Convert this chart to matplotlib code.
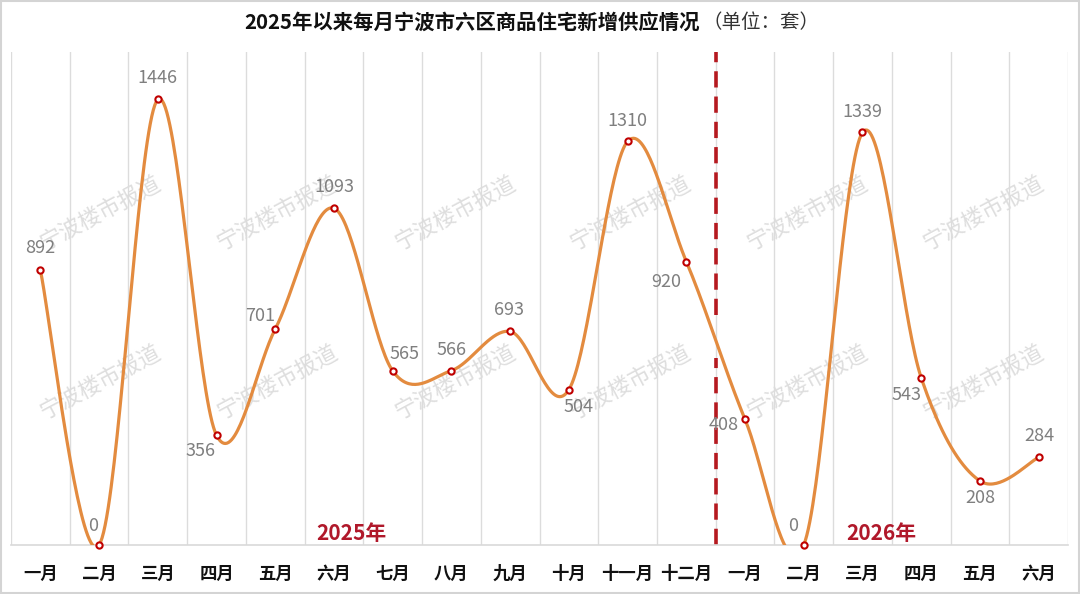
import matplotlib

matplotlib.use("Agg")
import matplotlib.pyplot as plt
import numpy as np
from matplotlib.patches import Rectangle

plt.rcParams['font.family'] = ['Noto Sans CJK SC', 'DejaVu Sans']

# data
months = ['一月', '二月', '三月', '四月', '五月', '六月', '七月', '八月', '九月',
          '十月', '十一月', '十二月', '一月', '二月', '三月', '四月', '五月', '六月']
supply = [892, 0, 1446, 356, 701, 1093, 565, 566, 693,
          504, 1310, 920, 408, 0, 1339, 543, 208, 284]
year_labels = ['2025年', '2026年']
title_main = '2025年以来每月宁波市六区商品住宅新增供应情况'
title_unit = '（单位：套）'
watermark = '宁波楼市报道'

# label offsets (pixels) so each number sits where Excel put it
label_offsets = [(0, 22), (-6, 19), (0, 21), (-16, -16), (-15, 13), (0, 21),
                 (12, 17), (0, 21), (-1, 21), (10, -17), (0, 20), (-20, -20),
                 (-21, -6), (-11, 19), (0, 20), (-15, -17), (0, -17), (1, 21)]

W, H = 1080, 594


def smooth(xs, ys, n=40):
    """Excel-like smoothed line: Catmull-Rom as cubic Bezier segments."""
    p = np.column_stack([xs, ys]).astype(float)
    p = np.vstack([p[0], p, p[-1]])
    out = []
    for i in range(1, len(p) - 2):
        p0, p1, p2, p3 = p[i - 1], p[i], p[i + 1], p[i + 2]
        c1 = p1 + (p2 - p0) / 6
        c2 = p2 - (p3 - p1) / 6
        t = np.linspace(0, 1, n)[:, None]
        seg = ((1 - t) ** 3) * p1 + 3 * ((1 - t) ** 2) * t * c1 + 3 * (1 - t) * t ** 2 * c2 + t ** 3 * p2
        out.append(seg if i == 1 else seg[1:])
    out = np.vstack(out)
    return out[:, 0], out[:, 1]


fig = plt.figure(figsize=(W / 100, H / 100), dpi=100)
fig.patch.set_facecolor('white')
fig.patches.append(Rectangle((0.001, 0.002), 0.998, 0.996, transform=fig.transFigure,
                             fill=False, edgecolor='#d4d4d4', linewidth=1.5))

ax = fig.add_axes([11 / W, 1 - 545 / H, (1068 - 11) / W, (545 - 52) / H])
x = np.arange(len(months))
ax.set_xlim(-0.5, len(months) - 0.5)
ax.set_ylim(0, 1600)

# vertical gridlines at category boundaries
ax.set_xticks(np.arange(-0.5, len(months), 1), minor=True)
ax.grid(which='minor', axis='x', color='#dcdcdc', linewidth=1.0)
ax.tick_params(which='minor', length=0)
ax.set_yticks([])
ax.set_xticks(x)
ax.set_xticklabels(months, fontsize=12.5, fontweight='bold', color='#111111')
ax.tick_params(axis='x', length=0, pad=14)
for side in ['left', 'right', 'top']:
    ax.spines[side].set_visible(False)
ax.spines['bottom'].set_color('#d9d9d9')
ax.spines['bottom'].set_linewidth(1.2)

# watermarks
for wx in [100, 277, 455, 630, 807, 983]:
    for wy in [213, 382]:
        ax.text(wx / W, 1 - wy / H, watermark, transform=fig.transFigure, rotation=28,
                ha='center', va='center', rotation_mode='anchor', fontsize=16,
                color='#dedede', zorder=1, clip_on=False)

# year divider
ax.axvline(11.5, ymin=0.4665, ymax=1.0, color='#B5191F', linewidth=2.6,
           linestyle=(0, (4.5, 2.5)), zorder=2)
ax.axvline(11.5, ymin=0.0, ymax=0.379, color='#B5191F', linewidth=2.6,
           linestyle=(0, (4.5, 2.5)), zorder=2)

sx, sy = smooth(x, supply)
ax.plot(sx, sy, color='#E38B3F', linewidth=2.3, zorder=3, solid_capstyle='round')
ax.plot(x, supply, linestyle='none', marker='o', markersize=4.5, markerfacecolor='white',
        markeredgecolor='#C00000', markeredgewidth=1.5, zorder=4, clip_on=False)

for xi, val, (dx, dy) in zip(x, supply, label_offsets):
    ax.annotate(str(val), (xi, val), xytext=(dx, dy), textcoords='offset pixels',
                ha='center', va='center', fontsize=13, color='#7f7f7f', zorder=5)

# year labels
ax.text(5.3, 0.024, year_labels[0], transform=ax.get_xaxis_transform(), ha='center',
        va='center', fontsize=15, fontweight='bold', color='#B0182A')
ax.text(14.33, 0.024, year_labels[1], transform=ax.get_xaxis_transform(), ha='center',
        va='center', fontsize=15, fontweight='bold', color='#B0182A')

# title
fig.text(700 / W, 1 - 22 / H, title_main, ha='right', va='center', fontsize=14.7,
         fontweight='bold', color='#111111')
fig.text(702 / W, 1 - 22 / H, title_unit, ha='left', va='center', fontsize=14,
         color='#333333')

fig.savefig('out.png', dpi=100, facecolor='white')
